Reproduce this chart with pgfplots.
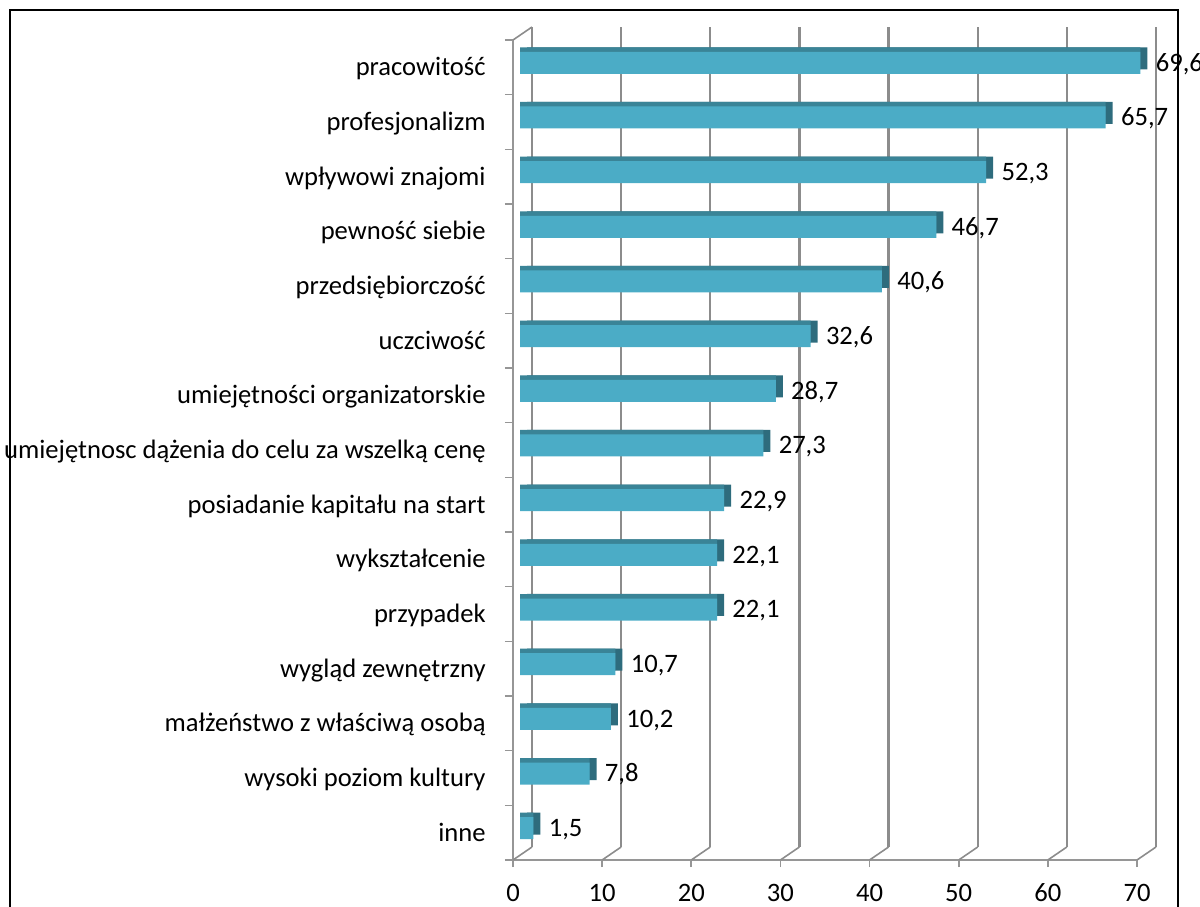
\documentclass[border=0pt]{standalone}
\usepackage{fontspec}
\setmainfont{Carlito}
\usepackage{pgfplots}
\pgfplotsset{compat=1.18}
\usepackage{pgfplotstable}

\definecolor{barfront}{HTML}{4BACC6}
\definecolor{bartop}{HTML}{3A8497}
\definecolor{barside}{HTML}{2E6C7D}
\definecolor{gridc}{RGB}{140,140,140}
\definecolor{axisc}{RGB}{150,150,150}

% idx 0 = bottom row (inne), 14 = top row (pracowitosc)
\pgfplotstableread{
idx val
0  1.5
1  7.8
2  10.2
3  10.7
4  22.1
5  22.1
6  22.9
7  27.3
8  28.7
9  32.6
10 40.6
11 46.7
12 52.3
13 65.7
14 69.6
}\data

\pgfplotsset{
  base/.style={
    scale only axis, width=312pt, height=410pt,
    xmin=0, xmax=70, ymin=-0.5, ymax=14.5,
    anchor=south west,
    /pgf/number format/assume math mode=true,
  },
}

\begin{document}
\begin{tikzpicture}[font=\fontsize{13.3}{16}\selectfont]
\useasboundingbox (0,0) rectangle (600pt,453pt);
% outer frame of the chart area
\draw[line width=0.8pt] (5pt,-2pt) -- (5pt,448pt) -- (589pt,448pt) -- (589pt,-2pt);

% back wall: gridlines
\begin{axis}[base, at={(266pt,29.5pt)},
  axis line style={draw=none},
  xtick={0,10,...,70}, xticklabels={}, ytick=\empty,
  major tick length=0pt,
  xmajorgrids, grid style={gridc, line width=1.1pt},
]
\end{axis}

% front plane: axis lines, ticks, labels, floor edges
\begin{axis}[base, at={(256.5pt,23pt)},
  axis x line*=bottom, axis y line*=left,
  axis line style={axisc, line width=0.8pt, -},
  tick align=outside,
  major tick length=3.5pt, minor tick length=4pt,
  tick style={axisc, line width=0.8pt},
  xtick={0,10,...,70},
  ytick={0,...,14},
  minor ytick={-0.5,0.5,...,14.5},
  every major y tick/.append style={draw=none},
  yticklabels={inne, wysoki poziom kultury, małżeństwo z właściwą osobą,
    wygląd zewnętrzny, przypadek, wykształcenie, posiadanie kapitału na start,
    umiejętnosc dążenia do celu za wszelką cenę, umiejętności organizatorskie,
    uczciwość, przedsiębiorczość, pewność siebie, wpływowi znajomi,
    profesjonalizm, pracowitość},
  xticklabel style={anchor=base, inner sep=0pt, yshift=-17pt},
  yticklabel style={anchor=base east, inner sep=0pt, xshift=-10pt, yshift=-4.2pt},
  clip=false,
]
\pgfplotsinvokeforeach{0,10,20,30,40,50,60,70}{
  \draw[gridc, line width=0.8pt] (axis cs:#1,-0.5) -- ++(9.5pt,6.5pt);
}
\draw[gridc, line width=0.8pt] (axis cs:0,14.5) -- ++(9.5pt,6.5pt);
\end{axis}

% side faces of the bars
\begin{axis}[base, at={(263.5pt,27.5pt)}, hide axis, xbar, bar width=11pt]
\addplot[fill=barside, draw=none, bar shift=0pt] table[x=val, y=idx] {\data};
\end{axis}

% top and front faces, value labels
\begin{axis}[base, at={(260pt,25.25pt)}, hide axis, xbar, bar width=11pt,
  clip=false,
  /pgf/number format/.cd, use comma, fixed, fixed zerofill, precision=1,
]
\addplot[fill=bartop, draw=none, bar shift=2.25pt] table[x=val, y=idx] {\data};
\addplot[fill=barfront, draw=none, bar shift=0pt,
  nodes near coords,
  nodes near coords style={anchor=base west, inner sep=0pt, xshift=7.5pt, yshift=-4.2pt, black},
] table[x=val, y=idx] {\data};
\end{axis}
\end{tikzpicture}
\end{document}
